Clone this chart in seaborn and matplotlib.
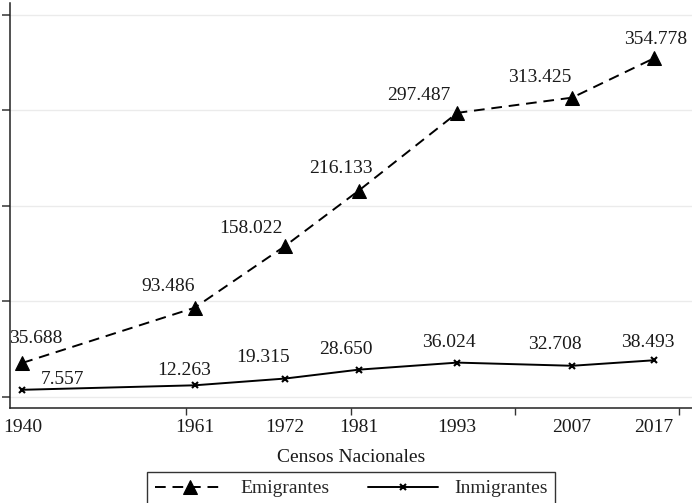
import numpy as np
import pandas as pd
import seaborn as sns
import matplotlib.pyplot as plt
from matplotlib.ticker import MultipleLocator, NullFormatter

# censos
years = [1940, 1961, 1972, 1981, 1993, 2007, 2017]
emigrantes = [35688, 93486, 158022, 216133, 297487, 313425, 354778]
inmigrantes = [7557, 12263, 19315, 28650, 36024, 32708, 38493]

# label offsets in pixels (dx, dy)
off_emi = [(13, 24), (-27, 21), (-34, 18), (-18, 22), (-38, 17), (-32, 20), (1, 19)]
off_inm = [(40, 10), (-11, 15), (-22, 21), (-13, 20), (-8, 20), (-17, 21), (-6, 18)]

df = pd.DataFrame({'Censo': years, 'Emigrantes': emigrantes, 'Inmigrantes': inmigrantes})

sns.set_style('white')
plt.rcParams['font.family'] = ['Liberation Serif', 'DejaVu Serif']
FS = 14

fig = plt.figure(figsize=(6.92, 5.03), dpi=100)
ax = fig.add_axes([10 / 692, 1 - 408 / 503, 1 - 10 / 692, (408 - 3) / 503])

sns.lineplot(ax=ax, data=df, x='Censo', y='Emigrantes', color='black',
             marker='^', markersize=9.5, markeredgecolor='black',
             linewidth=1.4, dashes=False, linestyle=(0, (5.5, 3.5)),
             label='Emigrantes')
sns.lineplot(ax=ax, data=df, x='Censo', y='Inmigrantes', color='black',
             marker='x', markersize=4.5, markeredgewidth=1.5,
             markeredgecolor='black', linewidth=1.4, label='Inmigrantes')


def fmt(v):
    return f'{v:,}'.replace(',', '.')


for x, y, o in zip(years, emigrantes, off_emi):
    ax.annotate(fmt(y), (x, y), xytext=o, textcoords='offset pixels',
                ha='center', va='center', fontsize=FS, color='#1a1a1a')
for x, y, o in zip(years, inmigrantes, off_inm):
    ax.annotate(fmt(y), (x, y), xytext=o, textcoords='offset pixels',
                ha='center', va='center', fontsize=FS, color='#1a1a1a')

ax.set_xlim(1938.5, 2021.6)
ax.set_ylim(-11500, 412500)

ax.set_xticks(years)
ax.set_xticklabels([str(y) for y in years], fontsize=FS)
ax.xaxis.set_minor_locator(MultipleLocator(20))
ax.xaxis.set_minor_formatter(NullFormatter())
ax.tick_params(axis='x', which='major', length=0, pad=8, colors='#1a1a1a')
ax.tick_params(axis='x', which='minor', length=5, width=1, color='#333333',
               direction='out', bottom=True)

ax.set_yticks([0, 100000, 200000, 300000, 400000])
ax.set_yticklabels([])
ax.tick_params(axis='y', which='major', length=6, width=1.2, color='#444444',
               direction='out', left=True)
ax.grid(axis='y', color='#ebebeb', linewidth=1)
ax.set_axisbelow(True)

for s in ['top', 'right']:
    ax.spines[s].set_visible(False)
for s in ['left', 'bottom']:
    ax.spines[s].set_color('#222222')
    ax.spines[s].set_linewidth(1.1)

ax.set_xlabel('Censos Nacionales', fontsize=FS, labelpad=9, color='#1a1a1a')
ax.set_ylabel('')

handles, labels = ax.get_legend_handles_labels()
ax.legend().remove()
leg = fig.legend(handles, labels, loc='upper center',
                 bbox_to_anchor=(351 / 692, 1 - 472 / 503),
                 ncol=2, frameon=True, fancybox=False, fontsize=FS,
                 handlelength=3.6, columnspacing=2.0, borderpad=0.4,
                 handletextpad=0.8, numpoints=1, borderaxespad=0)
leg.get_frame().set_edgecolor('black')
leg.get_frame().set_linewidth(1.0)

fig.savefig('out.png', dpi=100)
